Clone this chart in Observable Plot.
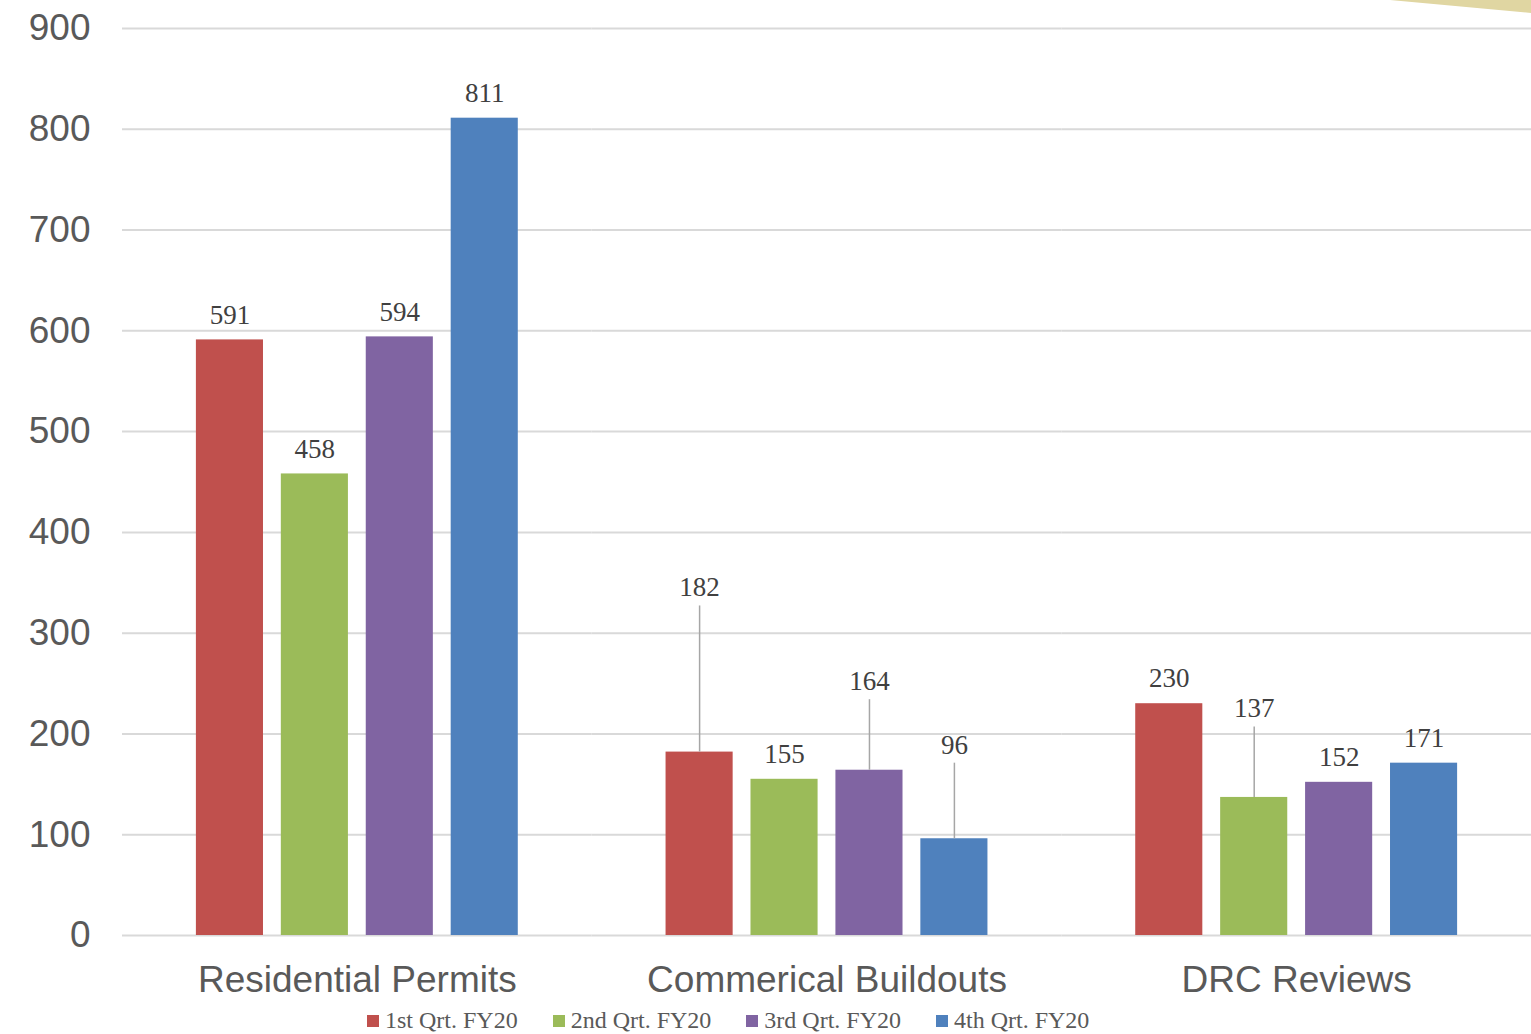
<!DOCTYPE html>
<html>
<head>
<meta charset="utf-8">
<script src="https://cdn.jsdelivr.net/npm/d3@7"></script>
<script src="https://cdn.jsdelivr.net/npm/@observablehq/plot@0.6"></script>
<style>
  html, body { margin: 0; padding: 0; background: #fff; }
  #wrap { position: relative; width: 1531px; height: 1034px; overflow: hidden; }
  #deco { position: absolute; left: 1390px; top: 0; width: 141px; height: 13px;
          background: #E0D6A2; clip-path: polygon(0 0, 100% 0, 100% 100%); }
  #legend { position: absolute; left: 367px; top: 1007px; display: flex; align-items: center;
            font-family: "Liberation Serif", serif; font-size: 24px; color: #595959; white-space: nowrap; }
  #legend .item { display: flex; align-items: center; margin-right: 35px; }
  #legend .sw { width: 12px; height: 12px; margin-right: 6px; }
</style>
</head>
<body>
<div id="wrap">
  <div id="chart"></div>
  <div id="deco"></div>
  <div id="legend"></div>
</div>
<script>
const groups = ["Residential Permits", "Commerical Buildouts", "DRC Reviews"];
const quarters = ["1st Qrt. FY20", "2nd Qrt. FY20", "3rd Qrt. FY20", "4th Qrt. FY20"];
const q1Values = [591, 182, 230];
const q2Values = [458, 155, 137];
const q3Values = [594, 164, 152];
const q4Values = [811, 96, 171];
const colors = ["#C0504D", "#9BBB59", "#8064A2", "#4F81BD"];
const yTicks = [0, 100, 200, 300, 400, 500, 600, 700, 800, 900];
// labels lifted above their bars with a leader line (label height in value units)
const leaderGroups = ["Commerical Buildouts", "Commerical Buildouts", "Commerical Buildouts", "DRC Reviews"];
const leaderQuarters = ["1st Qrt. FY20", "3rd Qrt. FY20", "4th Qrt. FY20", "2nd Qrt. FY20"];
const leaderLabelAt = [345, 252, 189, 225];

const series = [q1Values, q2Values, q3Values, q4Values];
const data = [];
groups.forEach((g, gi) => quarters.forEach((q, qi) => {
  const li = leaderGroups.findIndex((lg, k) => lg === g && leaderQuarters[k] === q);
  data.push({group: g, quarter: q, value: series[qi][gi], labelAt: li >= 0 ? leaderLabelAt[li] : null});
}));
const plain = data.filter(d => d.labelAt == null);
const lifted = data.filter(d => d.labelAt != null);

const chart = Plot.plot({
  width: 1531,
  height: 1000,
  marginLeft: 122,
  marginRight: 0,
  marginTop: 28,
  marginBottom: 65,
  style: {fontFamily: "'Liberation Sans', Arial, sans-serif", fontSize: "37px", color: "#595959", background: "#fff"},
  fx: {domain: groups, padding: 0, round: false, axis: "bottom", tickSize: 0, tickPadding: 30, label: null},
  x: {domain: quarters, paddingInner: 0.21, paddingOuter: 0.87, round: false, axis: null},
  y: {domain: [0, 900], ticks: yTicks, tickSize: 0, tickPadding: 32, label: null},
  color: {domain: quarters, range: colors},
  marks: [
    Plot.ruleY(yTicks, {stroke: "#D9D9D9", strokeWidth: 2}),
    Plot.barY(data, {fx: "group", x: "quarter", y: "value", fill: "quarter"}),
    Plot.ruleX(lifted, {fx: "group", x: "quarter", y1: "value", y2: d => d.labelAt - 18, stroke: "#A6A6A6", strokeWidth: 1.5}),
    Plot.text(plain, {fx: "group", x: "quarter", y: "value", text: d => String(d.value), dy: -25,
      fontFamily: "'Liberation Serif', serif", fontSize: 27, fill: "#404040"}),
    Plot.text(lifted, {fx: "group", x: "quarter", y: "labelAt", text: d => String(d.value),
      fontFamily: "'Liberation Serif', serif", fontSize: 27, fill: "#404040"})
  ]
});
document.getElementById("chart").appendChild(chart);

const legend = document.getElementById("legend");
quarters.forEach((q, i) => {
  const item = document.createElement("div");
  item.className = "item";
  const sw = document.createElement("div");
  sw.className = "sw";
  sw.style.background = colors[i];
  const t = document.createElement("span");
  t.textContent = q;
  item.appendChild(sw);
  item.appendChild(t);
  legend.appendChild(item);
});
</script>
</body>
</html>
